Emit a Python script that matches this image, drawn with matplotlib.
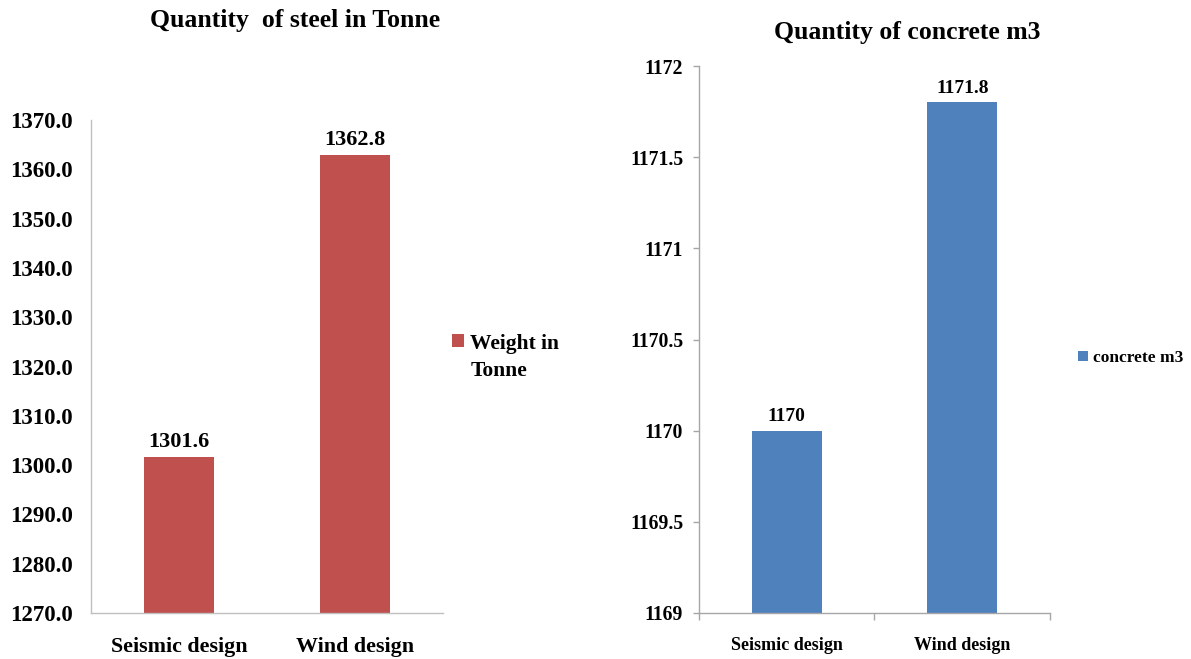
import matplotlib
matplotlib.use("Agg")
import matplotlib.pyplot as plt
from matplotlib.ticker import FuncFormatter, MultipleLocator

plt.rcParams['font.family'] = ['Liberation Serif', 'DejaVu Serif']

# Data
designs = ["Seismic design", "Wind design"]
steel_tonne = [1301.6, 1362.8]
concrete_m3 = [1170.0, 1171.8]

steel_label = "Weight in\nTonne"
concrete_label = "concrete m3"

steel_color = "#C0504D"
concrete_color = "#4F81BD"

W, H = 1191, 659
fig = plt.figure(figsize=(W / 100, H / 100), dpi=100)


def frac_box(x0, y_top, x1, y_bot):
    return [x0 / W, 1 - y_bot / H, (x1 - x0) / W, (y_bot - y_top) / H]


def top_align_legend(leg, spacing):
    # keep the swatch level with the first line of a multi-line label
    for row in leg._legend_handle_box.get_children():
        for entry in row.get_children():
            entry.align = "top"
    for t in leg.get_texts():
        t.set_linespacing(spacing)


# ---- Steel chart ----
ax1 = fig.add_axes(frac_box(91, 120, 443, 613))
x = range(len(designs))
bars1 = ax1.bar(x, steel_tonne, width=0.40, color=steel_color, label=steel_label, zorder=2)
ax1.set_xlim(-0.5, 1.5)
ax1.set_ylim(1270, 1370)
ax1.yaxis.set_major_locator(MultipleLocator(10))
ax1.yaxis.set_major_formatter(FuncFormatter(lambda v, p: f"{v:.1f}"))
ax1.set_xticks(list(x))
ax1.set_xticklabels(designs)
for s in ("top", "right"):
    ax1.spines[s].set_visible(False)
for s in ("left", "bottom"):
    ax1.spines[s].set_color("#BFBFBF")
    ax1.spines[s].set_linewidth(1.0)
ax1.tick_params(axis="y", length=0, pad=13, labelsize=16.5)
ax1.tick_params(axis="x", length=0, pad=17, labelsize=15.8)
for lab in ax1.get_xticklabels() + ax1.get_yticklabels():
    lab.set_fontweight("bold")
for rect, val in zip(bars1, steel_tonne):
    ax1.annotate(f"{val:.1f}", (rect.get_x() + rect.get_width() / 2, val),
                 xytext=(0, 7.5), textcoords="offset points",
                 ha="center", va="baseline", fontsize=16, fontweight="bold")

fig.text(295 / W, 1 - 21 / H, "Quantity  of steel in Tonne", ha="center", va="center",
         fontsize=18.5, fontweight="bold")

leg1 = fig.legend(handles=[bars1], labels=[steel_label], loc="upper left",
                  bbox_to_anchor=(452 / W, 1 - 334 / H), frameon=False,
                  prop={"size": 15.5, "weight": "bold"}, handlelength=0.55, handleheight=0.55,
                  handletextpad=0.3, borderpad=0, borderaxespad=0)
top_align_legend(leg1, 1.45)

# ---- Concrete chart ----
ax2 = fig.add_axes(frac_box(699, 66, 1050, 613))
bars2 = ax2.bar(x, concrete_m3, width=0.40, color=concrete_color, label=concrete_label, zorder=2)
ax2.set_xlim(-0.5, 1.5)
ax2.set_ylim(1169, 1172)
ax2.yaxis.set_major_locator(MultipleLocator(0.5))
ax2.yaxis.set_major_formatter(FuncFormatter(lambda v, p: f"{v:g}"))
ax2.set_xticks([-0.5, 0.5, 1.5], minor=False)
ax2.set_xticklabels([])
ax2.set_xticks(list(x), minor=True)
ax2.set_xticklabels(designs, minor=True)
for s in ("top", "right"):
    ax2.spines[s].set_visible(False)
for s in ("left", "bottom"):
    ax2.spines[s].set_color("#A6A6A6")
    ax2.spines[s].set_linewidth(1.0)
ax2.tick_params(axis="y", length=4.5, width=1.0, color="#A6A6A6", pad=7, labelsize=14.2)
ax2.tick_params(axis="x", which="major", length=5, width=1.0, color="#A6A6A6", direction="out")
ax2.tick_params(axis="x", which="minor", length=0, pad=17, labelsize=13)
for lab in ax2.get_yticklabels() + ax2.get_xticklabels(minor=True):
    lab.set_fontweight("bold")
for rect, val in zip(bars2, concrete_m3):
    ax2.annotate(f"{val:g}", (rect.get_x() + rect.get_width() / 2, val),
                 xytext=(0, 7), textcoords="offset points",
                 ha="center", va="baseline", fontsize=14, fontweight="bold")

fig.text(907 / W, 1 - 32 / H, "Quantity of concrete m3", ha="center", va="center",
         fontsize=18.5, fontweight="bold")

fig.legend(handles=[bars2], labels=[concrete_label], loc="center left",
           bbox_to_anchor=(1078 / W, 1 - 358 / H), frameon=False,
           prop={"size": 12.5, "weight": "bold"}, handlelength=0.55, handleheight=0.55,
           handletextpad=0.3, borderpad=0, borderaxespad=0)

fig.savefig("out.png", dpi=100, facecolor="white")
